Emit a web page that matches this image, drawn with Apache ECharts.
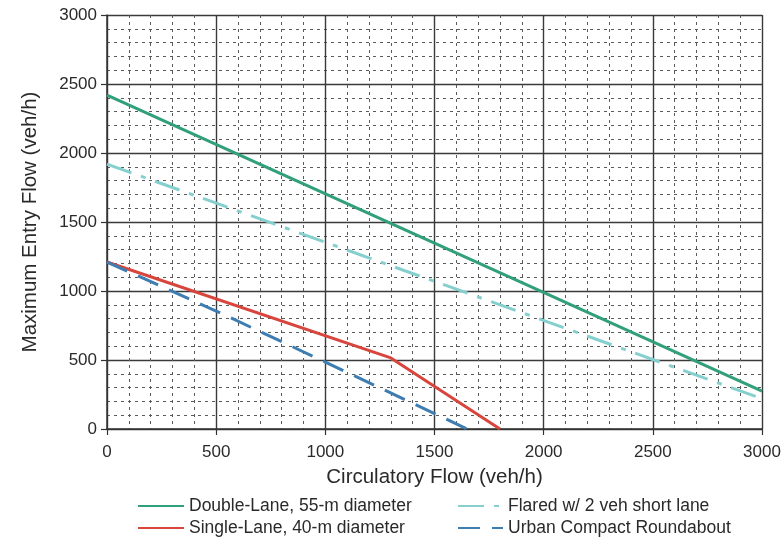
<!DOCTYPE html>
<html>
<head>
<meta charset="utf-8">
<script src="https://cdn.jsdelivr.net/npm/echarts@6/dist/echarts.min.js"></script>
<style>
  html, body { margin: 0; padding: 0; background: #fff; }
  #chart { width: 784px; height: 545px; }
</style>
</head>
<body>
<div id="chart"></div>
<script>
// 数据
const seriesNames = [
    'Double-Lane, 55-m diameter',
    'Single-Lane, 40-m diameter',
    'Flared w/ 2 veh short lane',
    'Urban Compact Roundabout'
];
const doubleLane = [[0, 2420], [3000, 275]];
const singleLane = [[0, 1210], [1300, 515], [1800, 0]];
const flared = [[0, 1920], [3000, 220]];
const urbanCompact = [[0, 1210], [500, 855], [1000, 485], [1650, 0]];
const xTicks = [0, 500, 1000, 1500, 2000, 2500, 3000];
const yTicks = [0, 500, 1000, 1500, 2000, 2500, 3000];

const font = 'Liberation Sans, Arial, sans-serif';

function makeAxis(ticks, name) {
    return {
        type: 'value',
        min: ticks[0],
        max: ticks[ticks.length - 1],
        interval: ticks[1] - ticks[0],
        name: name,
        nameLocation: 'middle',
        nameTextStyle: { fontFamily: font, fontSize: 20.5, color: '#2a2a2a' },
        axisLine: { show: true, lineStyle: { color: '#333', width: 1.5 } },
        axisTick: { show: true, length: 6, lineStyle: { color: '#333', width: 1.2 } },
        axisLabel: { fontFamily: font, fontSize: 17, color: '#2a2a2a', formatter: v => String(v) },
        splitLine: { show: true, lineStyle: { color: '#3a3a3a', width: 1.4 } },
        minorTick: { show: false, splitNumber: 5 },
        minorSplitLine: { show: true, lineStyle: { color: '#5a5a5a', width: 1, type: [3, 4] } }
    };
}

function lineSeries(name, data, color, type) {
    return {
        name: name,
        type: 'line',
        data: data,
        symbol: 'none',
        lineStyle: { color: color, width: 3, type: type },
        itemStyle: { color: color }
    };
}

// 图例：两列，隐藏圆点只留线段
function makeLegend(left, width, names) {
    return {
        orient: 'vertical', left: left, top: 492, itemGap: 4,
        itemWidth: width, itemHeight: 14,
        itemStyle: { opacity: 0 },
        textStyle: { fontFamily: font, fontSize: 17.5, lineHeight: 18, color: '#2a2a2a' },
        data: names
    };
}

const chart = echarts.init(document.getElementById('chart'));
chart.setOption({
    animation: false,
    grid: { left: 107, right: 22, top: 15, bottom: 116 },
    xAxis: Object.assign(makeAxis(xTicks, 'Circulatory Flow (veh/h)'), { nameGap: 38 }),
    yAxis: Object.assign(makeAxis(yTicks, 'Maximum Entry Flow (veh/h)'), { nameGap: 66 }),
    legend: [
        makeLegend(132, 46, [seriesNames[0], seriesNames[1]]),
        makeLegend(452, 45, [seriesNames[2], seriesNames[3]])
    ],
    series: [
        lineSeries(seriesNames[0], doubleLane, '#31a07a', 'solid'),
        lineSeries(seriesNames[1], singleLane, '#d8453d', 'solid'),
        lineSeries(seriesNames[2], flared, '#86cfcf', [26, 10, 5, 10]),
        lineSeries(seriesNames[3], urbanCompact, '#3d7db2', [22, 12])
    ]
});
chart.setOption({
    xAxis: { axisLabel: { margin: 15 } },
    yAxis: { axisLabel: { margin: 10 } }
});
</script>
</body>
</html>
